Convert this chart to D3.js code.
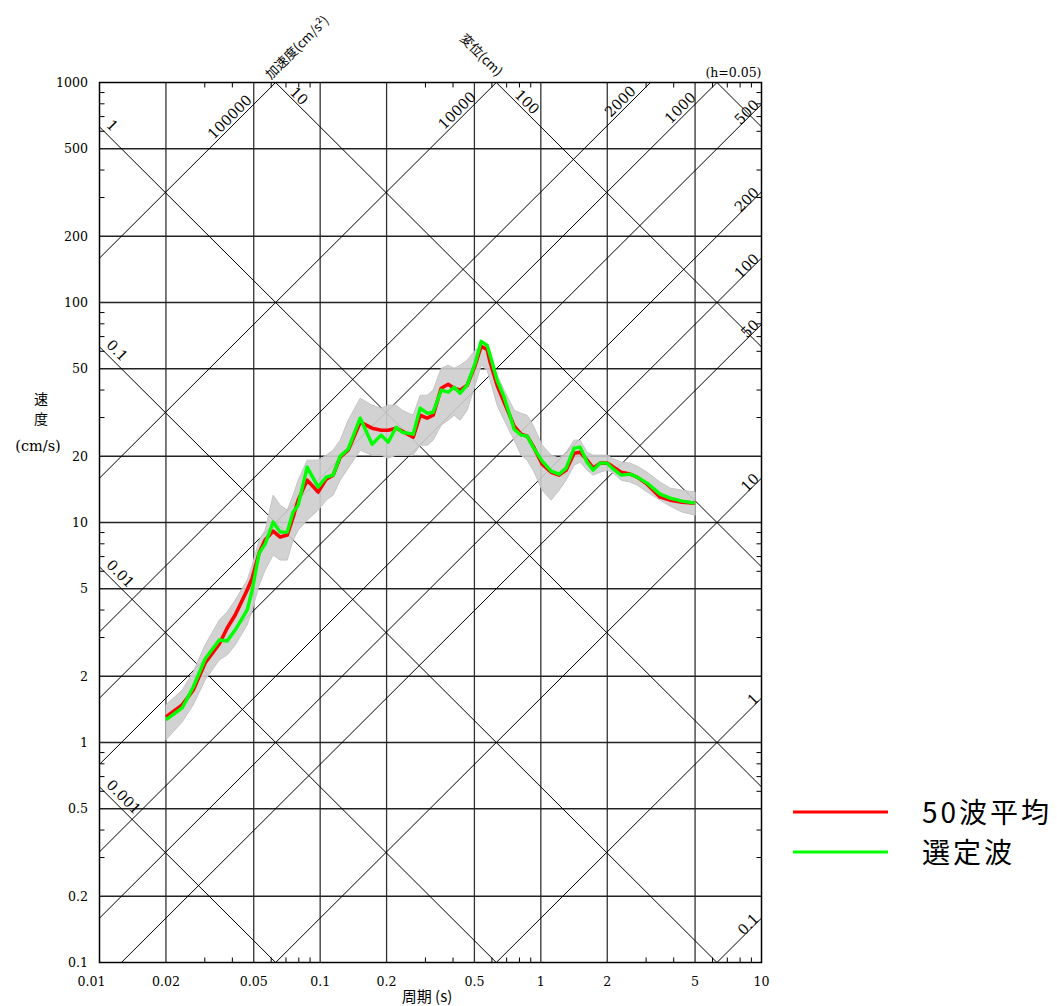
<!DOCTYPE html>
<html><head><meta charset="utf-8">
<script src="https://cdn.jsdelivr.net/npm/d3@7"></script>
<style>body{margin:0;background:#fff;} svg{display:block;}</style>
</head><body>
<svg id="c" width="1057" height="1006"></svg>
<script>
// ---- data (period in s, pseudo-velocity in cm/s) ----
const periods = [0.020,0.0237,0.0266,0.0301,0.0349,0.0379,0.0412,0.0467,0.0492,0.0529,0.0563,0.0612,0.0659,0.0709,0.0754,0.0795,0.0873,0.0979,0.1065,0.1145,0.1232,0.1339,0.1518,0.1720,0.1890,0.2033,0.2210,0.2352,0.2639,0.2838,0.3053,0.3251,0.3535,0.3802,0.4047,0.4308,0.4634,0.5039,0.5365,0.5711,0.5893,0.6339,0.6821,0.7572,0.8141,0.8670,0.9228,1.014,1.114,1.210,1.302,1.415,1.507,1.621,1.726,1.857,1.997,2.104,2.311,2.539,2.732,3.031,3.472,3.854,4.368,5.0];
const meanVel = [1.307,1.482,1.733,2.298,2.804,3.314,3.797,4.932,5.590,7.261,8.321,9.142,8.585,8.767,10.58,12.64,15.58,13.75,15.74,16.42,19.82,21.32,28.58,26.84,26.28,26.28,26.84,26.01,24.42,30.73,29.80,30.73,40.77,42.51,40.77,39.93,42.07,51.86,63.24,61.29,53.51,42.07,35.22,27.40,25.20,24.69,22.23,18.42,16.93,16.42,17.30,20.66,20.87,19.20,17.66,18.61,18.61,18.04,16.93,16.59,16.08,14.94,13.04,12.64,12.38,12.25];
const selectedVel = [1.266,1.436,1.788,2.397,2.924,2.893,3.246,4.002,4.932,7.261,7.979,10.04,9.046,9.046,11.15,11.99,17.85,14.48,16.08,16.42,20.03,21.54,29.80,22.70,24.95,23.18,27.12,25.73,25.20,33.06,31.39,31.72,39.93,39.10,41.20,38.69,42.07,52.96,66.63,63.90,57.56,44.33,37.11,26.56,24.95,24.69,22.00,19.00,17.12,16.59,17.66,21.77,22.00,18.80,17.30,18.61,18.61,17.66,16.42,16.59,16.08,15.10,13.46,12.91,12.51,12.25];
const grayUpper = [1.482,1.733,2.093,2.775,3.605,3.919,4.442,5.474,6.405,8.321,9.237,13.31,11.99,11.39,13.31,15.58,19.20,19.20,20.24,21.32,23.67,29.18,36.72,34.14,33.06,34.14,34.14,32.39,30.73,37.89,37.89,39.93,50.25,51.86,50.25,51.86,54.65,60.66,63.91,60.66,55.80,46.70,39.93,32.39,31.39,30.73,27.69,22.47,20.24,19.61,20.88,23.67,23.67,20.88,20.24,20.24,20.24,19.61,18.81,18.61,18.04,16.93,15.26,14.33,14.03,13.75];
const grayLower = [1.028,1.240,1.482,1.924,2.372,2.499,2.775,3.421,4.002,5.195,6.077,7.111,6.749,6.749,8.321,9.237,10.25,11.39,12.64,13.31,15.58,17.66,21.32,20.24,20.24,19.61,20.24,20.24,20.24,22.47,22.47,23.67,27.69,29.18,30.73,29.18,32.39,42.07,51.86,49.21,44.33,34.14,29.18,23.67,20.24,19.20,17.30,14.03,12.64,14.03,15.58,18.23,18.81,17.30,16.42,16.93,17.30,16.93,15.58,15.26,14.79,13.75,12.64,11.87,11.15,10.80];

const xTickValues = [0.01,0.02,0.05,0.1,0.2,0.5,1,2,5,10];
const xTickLabels = ["0.01","0.02","0.05","0.1","0.2","0.5","1","2","5","10"];
const yTickValues = [0.1,0.2,0.5,1,2,5,10,20,50,100,200,500,1000];
const yTickLabels = ["0.1","0.2","0.5","1","2","5","10","20","50","100","200","500","1000"];
const dispValues = [0.001,0.01,0.1,1,10,100,1000];          // displacement lines (cm)
const accValues = [0.1,1,10,50,100,200,500,1000,2000,10000,100000]; // acceleration lines (cm/s2)
const dispLabelList = ["0.001","0.01","0.1","1","10","100"];
const accLabelList = ["0.1","1","10","50","100","200","500","1000","2000","10000","100000"];
const legendNames = ["50波平均","選定波"];

// ---- layout ----
const L = 99.5, R = 761.5, T0 = 82.5, B = 962.5;
const svg = d3.select("#c");
const x = d3.scaleLog().domain([0.01,10]).range([L,R]);
const y = d3.scaleLog().domain([0.1,1000]).range([B,T0]);
const TP = 2*Math.PI;
const serif = "'DejaVu Serif', serif";
const cjk = "'Noto Sans CJK JP', sans-serif";

svg.append("rect").attr("width",1057).attr("height",1006).attr("fill","#fff");
svg.append("defs").append("clipPath").attr("id","plot")
  .append("rect").attr("x",L).attr("y",T0).attr("width",R-L).attr("height",B-T0);

// grid
const gridX = xTickValues.slice(1,-1), gridY = yTickValues.slice(1,-1);
const grid = svg.append("g");
grid.selectAll(".gx").data(gridX).join("line")
  .attr("x1",d=>x(d)).attr("x2",d=>x(d)).attr("y1",B).attr("y2",T0)
  .attr("stroke","#333").attr("stroke-width",1.3);
grid.selectAll(".gy").data(gridY).join("line")
  .attr("y1",d=>y(d)).attr("y2",d=>y(d)).attr("x1",L).attr("x2",R)
  .attr("stroke","#222").attr("stroke-width",1.3);

// tripartite diagonal lines
const diag = svg.append("g").attr("clip-path","url(#plot)");
const Ta = 0.001, Tb = 100;
diag.selectAll(".d").data(dispValues).join("line")
  .attr("x1",x(Ta)).attr("y1",D=>y(TP*D/Ta)).attr("x2",x(Tb)).attr("y2",D=>y(TP*D/Tb))
  .attr("stroke","#000").attr("stroke-width",1);
diag.selectAll(".a").data(accValues).join("line")
  .attr("x1",x(Ta)).attr("y1",A=>y(A*Ta/TP)).attr("x2",x(Tb)).attr("y2",A=>y(A*Tb/TP))
  .attr("stroke","#000").attr("stroke-width",1);

// labels on diagonals
const s2 = Math.SQRT1_2;
function dispPoint(D, px){ const t = x.invert(px); return [x(t), y(TP*D/t)]; }
function accPoint(A, px){ const t = x.invert(px); return [x(t), y(A*t/TP)]; }
const dispLabelAt = {"0.001":[102,5],"0.01":[102,5],"0.1":[102,5],"1":[102,5],"10":[287.5,2],"100":[511.6,3]};
const accLabelAt = {"100000":[255,3],"10000":[479,3],"2000":[639,3],"1000":[699,3],
  "500":[760,0],"200":[760,0],"100":[760,0],"50":[760,0],"10":[760,0],"1":[760,0],"0.1":[760,0]};
const lab = svg.append("g").attr("font-family",serif).attr("font-size",14.5).attr("fill","#000");
dispLabelList.forEach((s,i)=>{
  const [px,d] = dispLabelAt[s];
  const p = dispPoint(dispValues[i], px);
  const bx = p[0]+d*s2, by = p[1]-d*s2;
  lab.append("text").attr("transform",`translate(${bx},${by}) rotate(45)`).attr("text-anchor","start").text(s);
});
accLabelList.forEach((s,i)=>{
  const [px,d] = accLabelAt[s];
  const p = accPoint(accValues[i], px);
  const bx = p[0]-d*s2, by = p[1]-d*s2;
  lab.append("text").attr("transform",`translate(${bx},${by}) rotate(-45)`).attr("text-anchor","end").text(s);
});

// spectra
const plot = svg.append("g").attr("clip-path","url(#plot)");
const band = d3.area().x((d,i)=>x(periods[i])).y0((d,i)=>y(grayLower[i])).y1((d,i)=>y(grayUpper[i]));
plot.append("path").datum(periods).attr("d",band).attr("fill","#cdcdcd").attr("fill-opacity",0.9).attr("stroke","#c4c4c4").attr("stroke-width",1);
const line = arr => d3.line().x((d,i)=>x(periods[i])).y(d=>y(d))(arr);
plot.append("path").attr("d",line(meanVel)).attr("fill","none").attr("stroke","#ff0000").attr("stroke-width",3.6).attr("stroke-linejoin","round");
plot.append("path").attr("d",line(selectedVel)).attr("fill","none").attr("stroke","#00ff00").attr("stroke-width",3.4).attr("stroke-linejoin","round");

// frame
svg.append("rect").attr("x",L).attr("y",T0).attr("width",R-L).attr("height",B-T0)
  .attr("fill","none").attr("stroke","#000").attr("stroke-width",1.5);

// minor ticks
const minor = [];
[0.01,0.1,1].forEach(dec=>[3,4,6,7,8,9].forEach(k=>minor.push(dec*k)));
const minorY = [];
[0.1,1,10,100].forEach(dec=>[3,4,6,7,8,9].forEach(k=>minorY.push(dec*k)));
const tk = svg.append("g").attr("stroke","#000").attr("stroke-width",1);
minor.forEach(v=>{
  tk.append("line").attr("x1",x(v)).attr("x2",x(v)).attr("y1",B).attr("y2",B-5);
  tk.append("line").attr("x1",x(v)).attr("x2",x(v)).attr("y1",T0).attr("y2",T0+5);
});
minorY.forEach(v=>{
  tk.append("line").attr("y1",y(v)).attr("y2",y(v)).attr("x1",L).attr("x2",L+5);
  tk.append("line").attr("y1",y(v)).attr("y2",y(v)).attr("x1",R).attr("x2",R-5);
});

// tick labels
const tl = svg.append("g").attr("font-family",serif).attr("font-size",12.6).attr("fill","#000");
xTickValues.forEach((v,i)=>{
  tl.append("text").attr("x",x(v)+(i===0?-8:0)).attr("y",986).attr("text-anchor","middle").text(xTickLabels[i]);
});
yTickValues.forEach((v,i)=>{
  tl.append("text").attr("x",88).attr("y",y(v)+4.5).attr("text-anchor","end").text(yTickLabels[i]);
});

// axis titles
svg.append("text").attr("x",427).attr("y",1002).attr("text-anchor","middle")
  .attr("font-family",cjk).attr("font-size",15).text("周期 (s)");
svg.append("text").attr("x",41).attr("y",404).attr("text-anchor","middle").attr("font-family",cjk).attr("font-size",14).text("速");
svg.append("text").attr("x",41).attr("y",424).attr("text-anchor","middle").attr("font-family",cjk).attr("font-size",14).text("度");
svg.append("text").attr("x",38).attr("y",451).attr("text-anchor","middle").attr("font-family",serif).attr("font-size",14.5).text("(cm/s)");
svg.append("text").attr("transform",`translate(271,80) rotate(-45)`).attr("font-family",cjk).attr("font-size",13).text("加速度(cm/s²)");
svg.append("text").attr("transform",`translate(497,77) rotate(45)`).attr("text-anchor","end").attr("font-family",cjk).attr("font-size",13).text("変位(cm)");
svg.append("text").attr("x",R).attr("y",77).attr("text-anchor","end").attr("font-family",serif).attr("font-size",12.5).text("(h=0.05)");

// legend
const legColors = ["#ff0000","#00ff00"];
const lg = svg.append("g");
legendNames.forEach((n,i)=>{
  const yy = 812 + i*40;
  lg.append("line").attr("x1",793).attr("x2",888).attr("y1",yy).attr("y2",yy).attr("stroke",legColors[i]).attr("stroke-width",3);
  lg.append("text").attr("x",922).attr("y",yy+11).attr("font-family",cjk).attr("font-size",28).attr("letter-spacing",3).attr("fill","#000").text(n);
});
</script>
</body></html>
